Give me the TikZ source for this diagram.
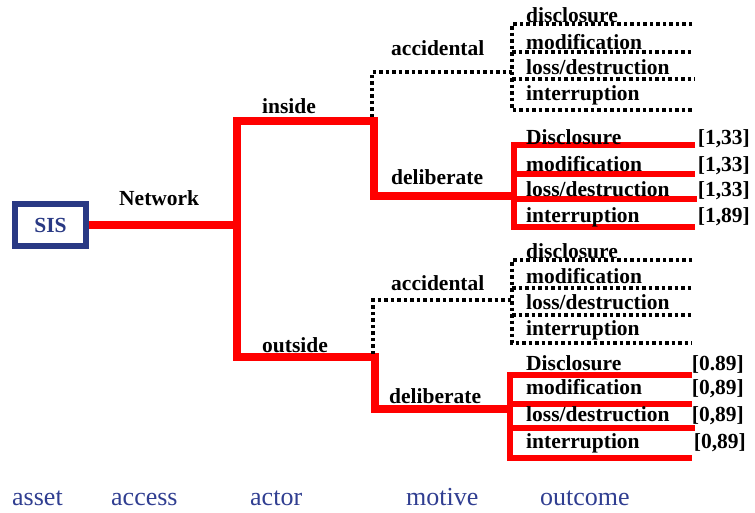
\documentclass[tikz,border=0pt]{standalone}
\usepackage{fontspec}
\setmainfont{Liberation Serif}
\definecolor{sisblue}{RGB}{41,57,132}
\definecolor{axisblue}{RGB}{48,62,145}
\begin{document}
\begin{tikzpicture}[x=1pt,y=-1pt,
 lbl/.style={font=\fontsize{21.5}{24}\selectfont\bfseries, inner sep=0pt, anchor=base west},
 val/.style={lbl, anchor=base east},
 axislbl/.style={font=\fontsize{26}{28}\selectfont, text=axisblue, inner sep=0pt, anchor=base west},
 mainline/.style={red, line width=8pt},
 branchline/.style={red, line width=6pt},
 dotline/.style={black, line width=3.5pt, dash pattern=on 3.5pt off 3pt}]
\useasboundingbox (0,0) rectangle (755,512);

% asset
\node[draw=sisblue, line width=6pt, minimum width=71pt, minimum height=42pt, inner sep=0pt,
      text=sisblue, font=\fontsize{21.5}{24}\selectfont\bfseries] (sis) at (50.5,225) {SIS};

% junction coordinates
\coordinate (acc) at (237,225);
\coordinate (inA) at (237,121);
\coordinate (inB) at (374,121);
\coordinate (inC) at (374,196);
\coordinate (inD) at (514,196);
\coordinate (outA) at (237,357);
\coordinate (outB) at (375,357);
\coordinate (outC) at (375,409);
\coordinate (outD) at (510,409);

\draw[mainline] (sis.east) -- (acc);
\draw[mainline] (inD) -- (inC) -- (inB) -- (inA) -- (outA) -- (outB) -- (outC) -- (outD);

% inside accidental (dotted)
\coordinate (iaA) at (372,117);
\coordinate (iaB) at (372,72);
\coordinate (iaC) at (512,72);
\draw[dotline] (iaA) -- (iaB) -- (iaC);
\draw[dotline] (692,24) -- (512,24) -- (512,110) -- (692,110);
\draw[dotline] (512,52) -- (692,52);
\draw[dotline] (512,79) -- (695,79);

% inside deliberate (red)
\draw[branchline] (695,145) -- (514,145) -- (514,227) -- (695,227);
\draw[branchline] (514,174) -- (695,174);
\draw[branchline] (514,199) -- (697,199);

% outside accidental (dotted)
\coordinate (oaA) at (373,354);
\coordinate (oaB) at (373,300);
\coordinate (oaC) at (512,300);
\draw[dotline] (oaA) -- (oaB) -- (oaC);
\draw[dotline] (692,260) -- (512,260) -- (512,343) -- (692,343);
\draw[dotline] (512,288) -- (692,288);
\draw[dotline] (512,315) -- (692,315);

% outside deliberate (red)
\draw[branchline] (692,375) -- (510,375) -- (510,458) -- (692,458);
\draw[branchline] (510,404) -- (692,404);
\draw[branchline] (510,428) -- (695,428);

% labels
\node[lbl] (network) at (119,205) {Network};
\node[lbl] (inside) at (262,113) {inside};
\node[lbl] (outside) at (262,352) {outside};
\node[lbl] (acc1) at (391,55) {accidental};
\node[lbl] (del1) at (391,184) {deliberate};
\node[lbl] (acc2) at (391,290) {accidental};
\node[lbl] (del2) at (389,403) {deliberate};

\node[lbl] (o1) at (526,22) {disclosure};
\node[lbl] (o2) at (526,49) {modification};
\node[lbl] (o3) at (526,74) {loss/destruction};
\node[lbl] (o4) at (526,100) {interruption};

\node[lbl] (o5) at (526,144) {Disclosure};
\node[lbl] (o6) at (526,171) {modification};
\node[lbl] (o7) at (526,196) {loss/destruction};
\node[lbl] (o8) at (526,222) {interruption};
\node[val] (v5) at (750,144) {[1,33]};
\node[val] (v6) at (750,171) {[1,33]};
\node[val] (v7) at (750,196) {[1,33]};
\node[val] (v8) at (750,222) {[1,89]};

\node[lbl] (o9) at (526,258) {disclosure};
\node[lbl] (o10) at (526,283) {modification};
\node[lbl] (o11) at (526,309) {loss/destruction};
\node[lbl] (o12) at (526,335) {interruption};

\node[lbl] (o13) at (526,370) {Disclosure};
\node[lbl] (o14) at (526,394) {modification};
\node[lbl] (o15) at (526,421) {loss/destruction};
\node[lbl] (o16) at (526,448) {interruption};
\node[val] (v13) at (744,370) {[0.89]};
\node[val] (v14) at (744,394) {[0,89]};
\node[val] (v15) at (744,421) {[0,89]};
\node[val] (v16) at (746,448) {[0,89]};

% axis labels
\node[axislbl] (asset) at (12,505) {asset};
\node[axislbl] (access) at (111,505) {access};
\node[axislbl] (actor) at (250,505) {actor};
\node[axislbl] (motive) at (406,505) {motive};
\node[axislbl] (outcome) at (540,505) {outcome};
\end{tikzpicture}
\end{document}
